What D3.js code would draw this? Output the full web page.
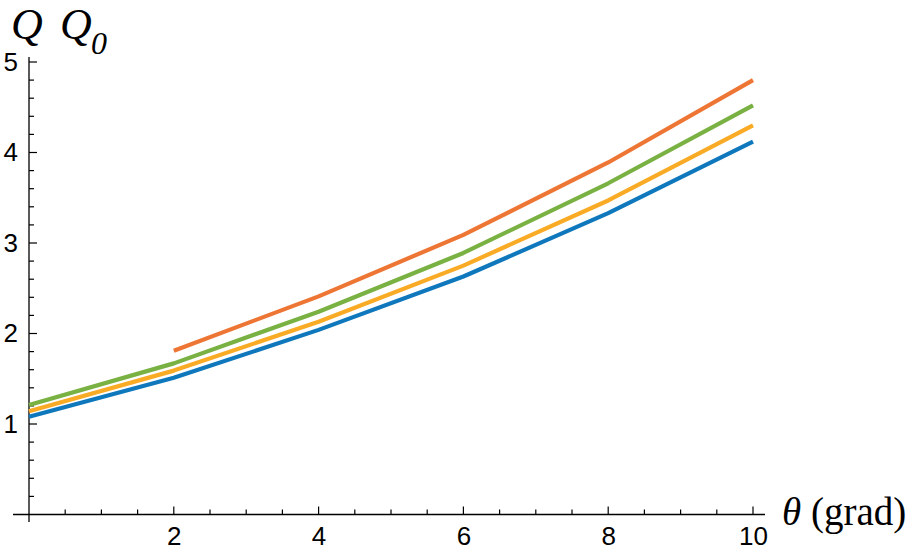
<!DOCTYPE html>
<html><head><meta charset="utf-8">
<script src="https://cdn.jsdelivr.net/npm/d3@7"></script>
<style>body{margin:0;background:#fff}svg{display:block}</style>
</head><body>
<script>
const thetaValues = [0, 2, 4, 6, 8, 10];
const seriesBlue   = [1.08, 1.51, 2.04, 2.63, 3.33, 4.12];
const seriesYellow = [1.14, 1.59, 2.13, 2.75, 3.47, 4.30];
const seriesGreen  = [1.21, 1.67, 2.24, 2.89, 3.66, 4.52];
const seriesOrange = [null, 1.81, 2.41, 3.09, 3.89, 4.80];
const xTicks = [2, 4, 6, 8, 10];
const yTicks = [1, 2, 3, 4, 5];

const series = [
  {name: "blue", values: seriesBlue, color: "#0f78bd"},
  {name: "yellow", values: seriesYellow, color: "#f9ab26"},
  {name: "green", values: seriesGreen, color: "#79b143"},
  {name: "orange", values: seriesOrange, color: "#ee7634"}
];

const W = 924, H = 551;
const svg = d3.select("body").append("svg").attr("width", W).attr("height", H);

const x = d3.scaleLinear().domain([0, 10]).range([29, 753]);
const y = d3.scaleLinear().domain([0, 5]).range([514.5, 62]);

const tickFont = "Liberation Sans, Arial, Helvetica, sans-serif";

// axes
const xAxis = d3.axisBottom(x).tickValues(xTicks).tickSize(0).tickPadding(12).tickFormat(d3.format("d"));
const gx = svg.append("g").attr("transform", `translate(0,${y(0)})`).call(xAxis);
gx.select(".domain").remove();
gx.selectAll("text").attr("font-family", tickFont).attr("font-size", 26).attr("fill", "#000");

const yAxis = d3.axisLeft(y).tickValues(yTicks).tickSize(0).tickPadding(11).tickFormat(d3.format("d"));
const gy = svg.append("g").attr("transform", `translate(${x(0)},0)`).call(yAxis);
gy.select(".domain").remove();
gy.selectAll("text").attr("font-family", tickFont).attr("font-size", 26).attr("fill", "#000");

// axis lines
svg.append("line").attr("x1", 13).attr("x2", 765).attr("y1", y(0)).attr("y2", y(0)).attr("stroke", "#000").attr("stroke-width", 1.3);
svg.append("line").attr("x1", x(0)).attr("x2", x(0)).attr("y1", 57).attr("y2", 522).attr("stroke", "#000").attr("stroke-width", 1.3);

// x ticks (pointing up)
const xMinor = d3.range(0.5, 10.01, 0.5);
svg.append("g").selectAll("line").data(xMinor).join("line")
  .attr("x1", d => x(d)).attr("x2", d => x(d))
  .attr("y1", y(0)).attr("y2", d => y(0) - (Number.isInteger(d / 2) ? 8 : 5))
  .attr("stroke", "#000").attr("stroke-width", 1.2);

// y ticks (pointing right)
const yMinor = d3.range(0.2, 5.01, 0.2);
svg.append("g").selectAll("line").data(yMinor).join("line")
  .attr("x1", x(0)).attr("x2", d => x(0) + (Math.abs(d - Math.round(d)) < 1e-6 ? 8 : 5))
  .attr("y1", d => y(d)).attr("y2", d => y(d))
  .attr("stroke", "#000").attr("stroke-width", 1.2);

// lines
const line = d3.line()
  .defined(d => d.v !== null)
  .x(d => x(d.t)).y(d => y(d.v));
svg.append("g").selectAll("path").data(series).join("path")
  .attr("d", s => line(thetaValues.map((t, i) => ({t, v: s.values[i]}))))
  .attr("fill", "none").attr("stroke", s => s.color).attr("stroke-width", 4.2)
  .attr("stroke-linejoin", "round");

// axis labels
const serif = "Liberation Serif, Times New Roman, serif";
const ql = svg.append("text").attr("y", 39)
  .attr("font-family", serif).attr("font-style", "italic").attr("font-size", 44);
ql.append("tspan").attr("x", 11).text("Q");
ql.append("tspan").attr("x", 60).text("Q");
svg.append("text").attr("x", 91).attr("y", 54)
  .attr("font-family", serif).attr("font-style", "italic").attr("font-size", 32)
  .text("0");

const xl = svg.append("text").attr("x", 782).attr("y", 525)
  .attr("font-family", serif).attr("font-size", 39);
xl.append("tspan").attr("font-style", "italic").text("θ");
xl.append("tspan").text(" (grad)");
</script>
</body></html>
